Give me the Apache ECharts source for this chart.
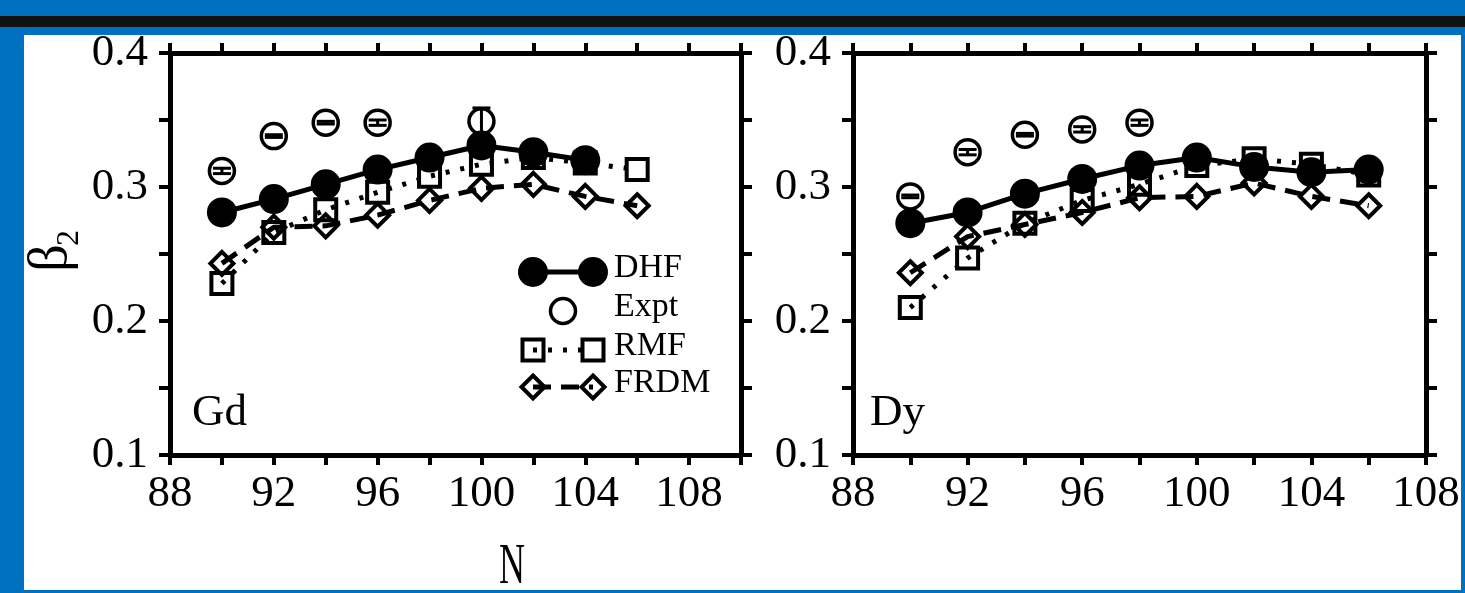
<!DOCTYPE html>
<html>
<head>
<meta charset="utf-8">
<script src="https://cdn.jsdelivr.net/npm/echarts@6/dist/echarts.min.js"></script>
<style>
  html, body { margin: 0; padding: 0; background: #0070c0; }
  #chart { width: 1465px; height: 593px; }
</style>
</head>
<body>
<div id="chart"></div>
<script>
// Quadrupole deformation beta_2 versus neutron number N for Gd and Dy isotopes
const nGd = [90, 92, 94, 96, 98, 100, 102, 104, 106];
const gdDHF = [0.281, 0.291, 0.302, 0.313, 0.322, 0.331, 0.326, 0.320, null];
const gdRMF = [0.228, 0.266, 0.283, 0.296, 0.308, 0.317, 0.322, 0.318, 0.313];
const gdFRDM = [0.243, 0.270, 0.271, 0.279, 0.290, 0.299, 0.302, 0.293, 0.286];
const gdExptN = [90, 92, 94, 96, 100];
const gdExpt = [0.312, 0.338, 0.348, 0.348, 0.349];
const gdExptErr = [0.002, 0.001, 0.001, 0.002, 0.010];

const nDy = [90, 92, 94, 96, 98, 100, 102, 104, 106];
const dyDHF = [0.273, 0.281, 0.295, 0.306, 0.316, 0.322, 0.315, 0.311, 0.313];
const dyRMF = [0.210, 0.247, 0.273, 0.290, 0.302, 0.316, 0.321, 0.317, 0.309];
const dyFRDM = [0.236, 0.263, 0.272, 0.281, 0.292, 0.293, 0.303, 0.293, 0.286];
const dyExptN = [90, 92, 94, 96, 98];
const dyExpt = [0.293, 0.326, 0.339, 0.343, 0.348];
const dyExptErr = [0.001, 0.002, 0.001, 0.002, 0.002];

const yTicks = [0.1, 0.2, 0.3, 0.4];
const xTicks = [88, 92, 96, 100, 104, 108];

const FONT = '"Liberation Serif", "Times New Roman", serif';
const BLACK = '#000';

function pairs(xs, ys) {
  const out = [];
  xs.forEach((x, i) => { if (ys[i] != null) out.push([x, ys[i]]); });
  return out;
}

// Bottom axis with labels plus a bare top axis that closes the frame
function xAxisPair(gi, max) {
  const common = {
    type: 'value', gridIndex: gi, min: 88, max: max, interval: 2,
    axisLine: { show: true, onZero: false, lineStyle: { color: BLACK, width: 5 } },
    axisTick: { show: true, length: 10, lineStyle: { color: BLACK, width: 4 } },
    splitLine: { show: false }
  };
  return [
    Object.assign({}, common, {
      position: 'bottom',
      axisLabel: {
        margin: 17, color: BLACK, fontFamily: FONT, fontSize: 45,
        formatter: v => (xTicks.indexOf(v) >= 0 ? String(v) : '')
      }
    }),
    Object.assign({}, common, { position: 'top', axisLabel: { show: false } })
  ];
}

// Left axis with labels plus a bare right axis
function yAxisPair(gi) {
  const common = {
    type: 'value', gridIndex: gi, min: 0.1, max: 0.4, interval: 0.05,
    axisLine: { show: true, onZero: false, lineStyle: { color: BLACK, width: 5 } },
    axisTick: { show: true, length: 11, lineStyle: { color: BLACK, width: 4 } },
    splitLine: { show: false }
  };
  return [
    Object.assign({}, common, {
      position: 'left',
      axisLabel: {
        margin: 22, color: BLACK, fontFamily: FONT, fontSize: 45,
        formatter: v => {
          const hit = yTicks.find(t => Math.abs(t - v) < 1e-6);
          return hit != null ? hit.toFixed(1) : '';
        }
      }
    }),
    Object.assign({}, common, { position: 'right', axisLabel: { show: false } })
  ];
}

// Grid 0 uses axes 0 (its frame axes are 1); grid 1 uses axes 2 (frame axes 3)
function modelSeries(gi, ns, dhf, rmf, frdm) {
  const xi = gi * 2, yi = gi * 2;
  return [
    {
      type: 'line', xAxisIndex: xi, yAxisIndex: yi, data: pairs(ns, frdm), z: 3,
      symbol: 'diamond', symbolSize: 23,
      lineStyle: { color: BLACK, width: 5, type: [18, 10] },
      itemStyle: { color: 'rgba(255,255,255,0)', borderColor: BLACK, borderWidth: 4, opacity: 1 }
    },
    {
      type: 'line', xAxisIndex: xi, yAxisIndex: yi, data: pairs(ns, rmf), z: 4,
      symbol: 'rect', symbolSize: 21,
      lineStyle: { color: BLACK, width: 5, type: [4, 11] },
      itemStyle: { color: 'rgba(255,255,255,0)', borderColor: BLACK, borderWidth: 4, opacity: 1 }
    },
    {
      type: 'line', xAxisIndex: xi, yAxisIndex: yi, data: pairs(ns, dhf), z: 5,
      symbol: 'circle', symbolSize: 30,
      lineStyle: { color: BLACK, width: 5 },
      itemStyle: { color: BLACK, borderWidth: 0, opacity: 1 }
    }
  ];
}

function exptSeries(gi, ns, vals, errs) {
  const xi = gi * 2, yi = gi * 2;
  const data = ns.map((n, i) => [n, vals[i], vals[i] - errs[i], vals[i] + errs[i]]);
  return [
    {
      type: 'scatter', xAxisIndex: xi, yAxisIndex: yi, z: 6,
      data: data.map(d => [d[0], d[1]]),
      symbol: 'circle', symbolSize: 25,
      itemStyle: { color: 'rgba(255,255,255,0)', borderColor: BLACK, borderWidth: 3.5, opacity: 1 }
    },
    {
      type: 'custom', xAxisIndex: xi, yAxisIndex: yi, z: 7,
      data: data,
      renderItem: function (params, api) {
        const lo = api.coord([api.value(0), api.value(2)]);
        const hi = api.coord([api.value(0), api.value(3)]);
        const hw = 9;
        const st = { stroke: BLACK, lineWidth: 3 };
        return {
          type: 'group',
          children: [
            { type: 'line', shape: { x1: lo[0], y1: lo[1], x2: hi[0], y2: hi[1] }, style: st },
            { type: 'line', shape: { x1: lo[0] - hw, y1: lo[1], x2: lo[0] + hw, y2: lo[1] }, style: st },
            { type: 'line', shape: { x1: hi[0] - hw, y1: hi[1], x2: hi[0] + hw, y2: hi[1] }, style: st }
          ]
        };
      }
    }
  ];
}

// Legend drawn inside the Gd panel
const LX1 = 533, LX2 = 593, LT = 614;
const legRows = { dhf: 272, expt: 311, rmf: 350, frdm: 387 };
function diamond(cx, cy, r) {
  return [[cx, cy - r], [cx + r, cy], [cx, cy + r], [cx - r, cy]];
}
const legendText = (label, y) => ({
  type: 'text', left: LT, top: y - 21, z: 20,
  style: { text: label, font: '34px ' + FONT, fill: BLACK }
});

const graphic = [
  { type: 'rect', shape: { x: 0, y: 16, width: 1465, height: 11 }, style: { fill: '#111' }, z: -10 },
  { type: 'rect', shape: { x: 24, y: 35, width: 1437, height: 555 }, style: { fill: '#fff' }, z: -10 },

  { type: 'line', shape: { x1: LX1, y1: legRows.dhf, x2: LX2, y2: legRows.dhf }, style: { stroke: BLACK, lineWidth: 5 }, z: 20 },
  { type: 'circle', shape: { cx: LX1, cy: legRows.dhf, r: 15 }, style: { fill: BLACK }, z: 20 },
  { type: 'circle', shape: { cx: LX2, cy: legRows.dhf, r: 15 }, style: { fill: BLACK }, z: 20 },
  legendText('DHF', legRows.dhf),

  { type: 'circle', shape: { cx: (LX1 + LX2) / 2, cy: legRows.expt, r: 12.5 }, style: { fill: null, stroke: BLACK, lineWidth: 3.5 }, z: 20 },
  legendText('Expt', legRows.expt),

  { type: 'line', shape: { x1: LX1, y1: legRows.rmf, x2: LX2, y2: legRows.rmf }, style: { stroke: BLACK, lineWidth: 5, lineDash: [4, 11] }, z: 20 },
  { type: 'rect', shape: { x: LX1 - 10.5, y: legRows.rmf - 10.5, width: 21, height: 21 }, style: { fill: null, stroke: BLACK, lineWidth: 4 }, z: 20 },
  { type: 'rect', shape: { x: LX2 - 10.5, y: legRows.rmf - 10.5, width: 21, height: 21 }, style: { fill: null, stroke: BLACK, lineWidth: 4 }, z: 20 },
  legendText('RMF', legRows.rmf),

  { type: 'line', shape: { x1: LX1, y1: legRows.frdm, x2: LX2, y2: legRows.frdm }, style: { stroke: BLACK, lineWidth: 5, lineDash: [18, 10] }, z: 20 },
  { type: 'polygon', shape: { points: diamond(LX1, legRows.frdm, 11.5) }, style: { fill: null, stroke: BLACK, lineWidth: 4 }, z: 20 },
  { type: 'polygon', shape: { points: diamond(LX2, legRows.frdm, 11.5) }, style: { fill: null, stroke: BLACK, lineWidth: 4 }, z: 20 },
  legendText('FRDM', legRows.frdm),

  // panel tags
  { type: 'text', left: 192, top: 391, z: 20, style: { text: 'Gd', font: '45px ' + FONT, fill: BLACK } },
  { type: 'text', left: 870, top: 391, z: 20, style: { text: 'Dy', font: '45px ' + FONT, fill: BLACK } },

  // axis titles
  { type: 'text', x: 512, y: 568, z: 20, scaleX: 0.62,
    style: { text: 'N', font: '58px ' + FONT, fill: BLACK, textAlign: 'center', textVerticalAlign: 'middle' } },
  { type: 'text', x: 52, y: 258, z: 20, rotation: Math.PI / 2,
    style: { text: '\u03b2', font: '54px ' + FONT, fill: BLACK, textAlign: 'center', textVerticalAlign: 'middle' } },
  { type: 'text', x: 70, y: 238, z: 20, rotation: Math.PI / 2,
    style: { text: '2', font: '32px ' + FONT, fill: BLACK, textAlign: 'center', textVerticalAlign: 'middle' } }
];

const xGd = xAxisPair(0, 110);
const xDy = xAxisPair(1, 108);
const yGd = yAxisPair(0);
const yDy = yAxisPair(1);

const option = {
  backgroundColor: '#0070c0',
  animation: false,
  grid: [
    { left: 170, top: 53, width: 571, height: 402 },
    { left: 853, top: 53, width: 573, height: 402 }
  ],
  xAxis: [xGd[0], xGd[1], xDy[0], xDy[1]],
  yAxis: [yGd[0], yGd[1], yDy[0], yDy[1]],
  graphic: graphic,
  series: [].concat(
    modelSeries(0, nGd, gdDHF, gdRMF, gdFRDM),
    exptSeries(0, gdExptN, gdExpt, gdExptErr),
    modelSeries(1, nDy, dyDHF, dyRMF, dyFRDM),
    exptSeries(1, dyExptN, dyExpt, dyExptErr)
  )
};

const chart = echarts.init(document.getElementById('chart'), null, { renderer: 'canvas' });
chart.setOption(option);
</script>
</body>
</html>
